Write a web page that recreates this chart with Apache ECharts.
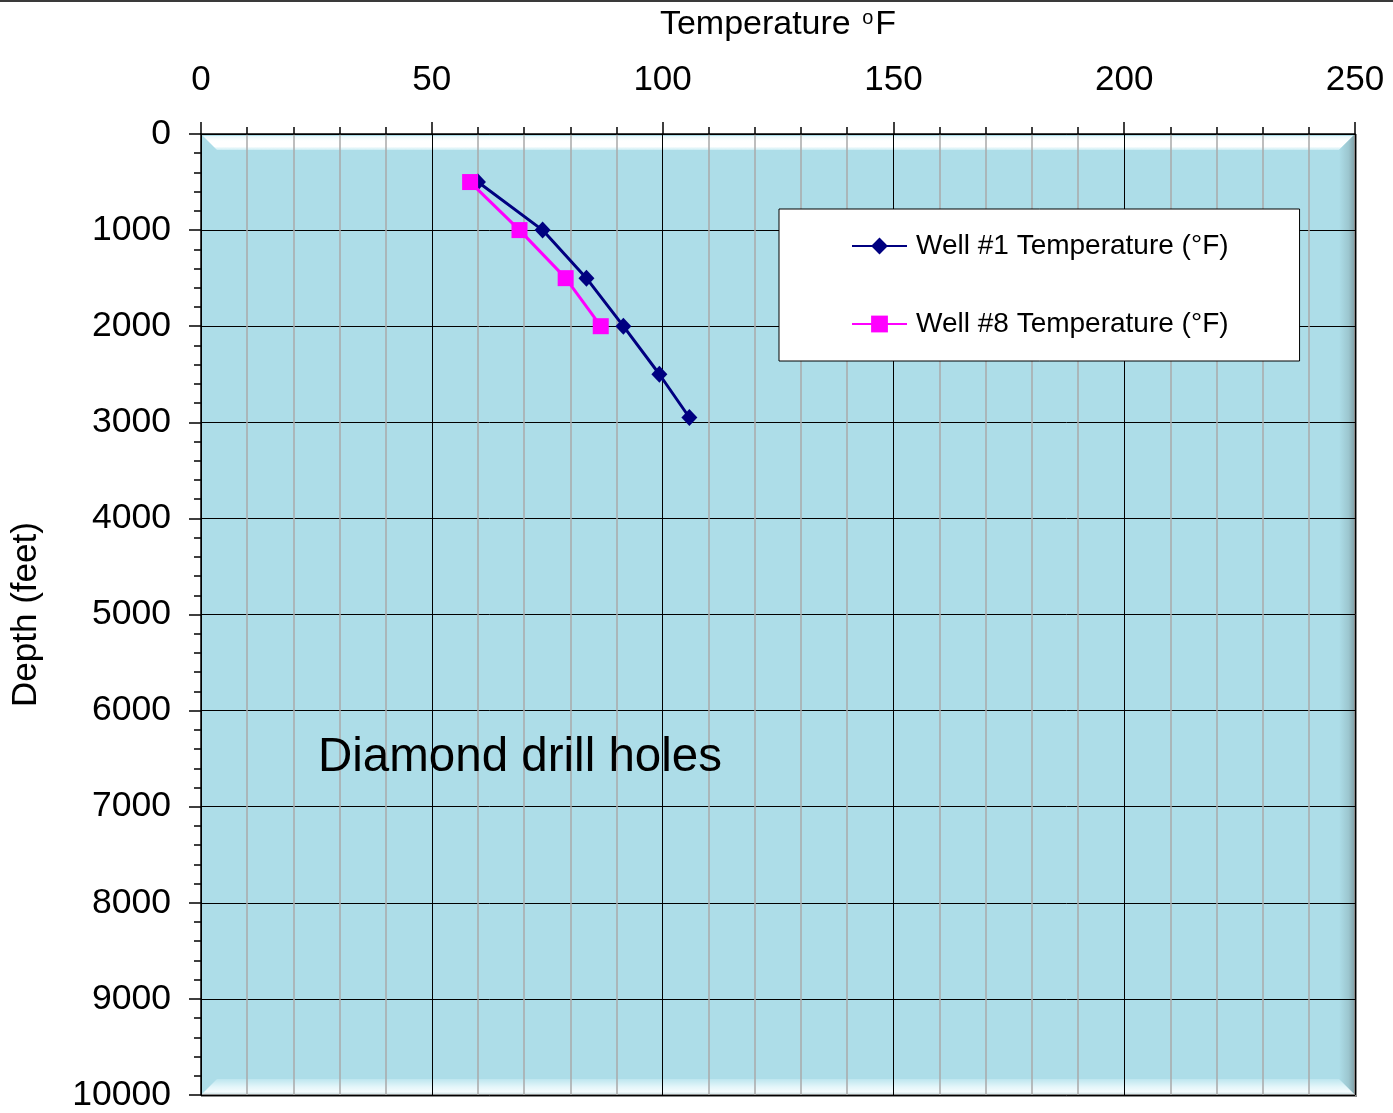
<!DOCTYPE html>
<html>
<head>
<meta charset="utf-8">
<script src="https://cdn.jsdelivr.net/npm/echarts@6/dist/echarts.min.js"></script>
<style>
  html, body { margin: 0; padding: 0; background: #fff; }
  #chart { width: 1393px; height: 1113px; }
</style>
</head>
<body>
<div id="chart"></div>
<script>
// Temperature profiles of two diamond drill holes (depth increases downward)
const seriesNames = ['Well #1 Temperature (°F)', 'Well #8 Temperature (°F)'];

const well1Depth = [500, 1000, 1500, 2000, 2500, 2950];
const well1Temp  = [60, 74, 83.5, 91.5, 99.3, 105.8];

const well8Depth = [500, 1000, 1500, 2000];
const well8Temp  = [58.3, 69, 79, 86.6];

const tempTicks  = { min: 0, max: 250, interval: 50 };
const depthTicks = { min: 0, max: 10000, interval: 1000 };

const FONT = "'Liberation Sans', Arial, sans-serif";

// plot box layout
const G = { left: 201, top: 134, width: 1154, height: 961 };
const GR = G.left + G.width, GB = G.top + G.height;

const pairs = (xs, ys) => xs.map((x, i) => [x, ys[i]]);

const chart = echarts.init(document.getElementById('chart'));

chart.setOption({
  backgroundColor: '#ffffff',
  animation: false,
  grid: {
    left: G.left, top: G.top, width: G.width, height: G.height,
    show: true, backgroundColor: '#ADDDE8', borderWidth: 0, z: 0
  },
  legend: {
    orient: 'vertical',
    left: 779, top: 209,
    padding: [22, 71, 22, 72],
    backgroundColor: '#ffffff',
    borderColor: '#000000',
    borderWidth: 1,
    itemWidth: 55,
    itemHeight: 21,
    itemGap: 48,
    textStyle: { fontFamily: FONT, fontSize: 28, color: '#000', lineHeight: 30, padding: [0, 0, 0, 4] },
    data: seriesNames,
    z: 6
  },
  xAxis: {
    type: 'value',
    position: 'top',
    min: tempTicks.min, max: tempTicks.max, interval: tempTicks.interval,
    name: 'Temperature {s|o}F',
    nameLocation: 'middle',
    nameGap: 92,
    nameTextStyle: {
      fontFamily: FONT, fontSize: 34, color: '#000',
      rich: { s: { fontFamily: FONT, fontSize: 20, color: '#000', verticalAlign: 'top', padding: [0, 2, 14, 2] } }
    },
    axisLine: { show: true, lineStyle: { color: '#000', width: 1.5 } },
    axisTick: { show: true, inside: false, length: 12, lineStyle: { color: '#000', width: 1.5 } },
    minorTick: { show: true, splitNumber: 5, length: 7, lineStyle: { color: '#000', width: 1.5 } },
    axisLabel: { fontFamily: FONT, fontSize: 35, color: '#000', margin: 36 },
    splitLine: { show: true, lineStyle: { color: '#000', width: 1 } },
    minorSplitLine: { show: true, lineStyle: { color: '#A9A9A9', width: 1.5 } },
    z: 3
  },
  yAxis: {
    type: 'value',
    inverse: true,
    min: depthTicks.min, max: depthTicks.max, interval: depthTicks.interval,
    name: 'Depth (feet)',
    nameLocation: 'middle',
    nameGap: 157,
    nameTextStyle: { fontFamily: FONT, fontSize: 35, color: '#000' },
    axisLine: { show: true, lineStyle: { color: '#000', width: 1.5 } },
    axisTick: { show: true, inside: false, length: 12, lineStyle: { color: '#000', width: 1.5 } },
    minorTick: { show: true, splitNumber: 5, length: 7, lineStyle: { color: '#000', width: 1.5 } },
    axisLabel: { fontFamily: FONT, fontSize: 35.5, color: '#000', margin: 30, formatter: v => String(v) },
    splitLine: { show: true, lineStyle: { color: '#000', width: 1 } },
    minorSplitLine: { show: false },
    z: 3
  },
  graphic: [
    // frame line along the top edge of the image
    { type: 'rect', shape: { x: 0, y: 0, width: 1393, height: 2 }, style: { fill: '#3a3a3a' }, z: 10 },
    // bevelled plot edges: highlight on top, shade on right, pale strip at bottom
    {
      type: 'polygon', z: 1,
      shape: { points: [[G.left + 2, G.top + 2], [GR - 2, G.top + 2], [GR - 16, G.top + 16], [G.left + 16, G.top + 16]] },
      style: { fill: new echarts.graphic.LinearGradient(0, 0, 0, 1, [
        { offset: 0, color: '#E8F7FA' }, { offset: 0.35, color: '#FFFFFF' }, { offset: 0.75, color: '#FFFFFF' }, { offset: 1, color: '#C9ECF3' }
      ]) }
    },
    {
      type: 'polygon', z: 1,
      shape: { points: [[GR - 16, G.top + 16], [GR, G.top], [GR, GB], [GR - 16, GB - 16]] },
      style: { fill: new echarts.graphic.LinearGradient(0, 0, 1, 0, [
        { offset: 0, color: '#ADDDE8' }, { offset: 0.6, color: '#9CC6CF' }, { offset: 1, color: '#7F9FA6' }
      ]) }
    },
    {
      type: 'polygon', z: 1,
      shape: { points: [[G.left + 16, GB - 16], [GR - 16, GB - 16], [GR, GB], [G.left, GB]] },
      style: { fill: new echarts.graphic.LinearGradient(0, 0, 0, 1, [
        { offset: 0, color: '#BDE6EF' }, { offset: 0.5, color: '#E4F6FA' }, { offset: 0.8, color: '#F4FBFD' }, { offset: 1, color: '#C4DCE1' }
      ]) }
    },
    { type: 'rect', z: 2, shape: { x: GR - 1, y: G.top, width: 3, height: G.height + 2 }, style: { fill: '#8A8A8A' } },
    { type: 'rect', z: 2, shape: { x: G.left, y: GB - 1, width: G.width + 2, height: 3 }, style: { fill: '#8A8A8A' } },
    // annotation inside the plot
    {
      type: 'text', z: 5, left: 318, top: 734,
      style: { text: 'Diamond drill holes', fontFamily: FONT, fontSize: 47.5, fill: '#000' }
    }
  ],
  series: [
    {
      name: seriesNames[0],
      type: 'line',
      data: pairs(well1Temp, well1Depth),
      symbol: 'diamond',
      symbolSize: [16, 17],
      lineStyle: { color: '#000080', width: 3 },
      itemStyle: { color: '#000080' },
      z: 4
    },
    {
      name: seriesNames[1],
      type: 'line',
      data: pairs(well8Temp, well8Depth),
      symbol: 'rect',
      symbolSize: 16,
      lineStyle: { color: '#FF00FF', width: 3 },
      itemStyle: { color: '#FF00FF' },
      z: 5
    }
  ]
});
</script>
</body>
</html>
